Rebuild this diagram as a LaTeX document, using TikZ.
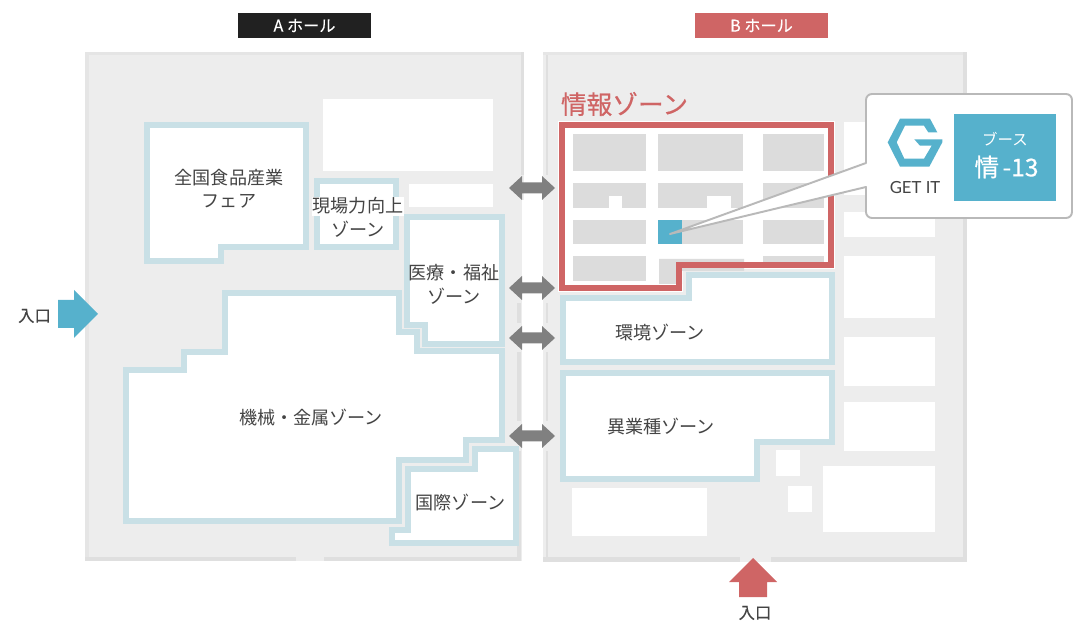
\documentclass[tikz,border=0pt]{standalone}
\usepackage{fontspec}
\setmainfont{Noto Sans CJK JP}
\newfontfamily\logofont{Lato}
\newfontfamily\heavyfont[FakeBold=0.5]{Noto Sans CJK JP}
\newfontfamily\semifont[FakeBold=0.25]{Noto Sans CJK JP}

\definecolor{hallgray}{HTML}{EDEDED}
\definecolor{edgegray}{HTML}{DFDFDF}
\definecolor{boothgray}{HTML}{DCDCDC}
\definecolor{zoneblue}{HTML}{C9E0E6}
\definecolor{brandblue}{HTML}{56B1CC}
\definecolor{brandred}{HTML}{CF6565}
\definecolor{inkgray}{HTML}{444444}
\definecolor{linkgray}{HTML}{808080}

\tikzset{
  zone/.style={draw=zoneblue,fill=white,line width=3.4pt,line join=miter},
  room/.style={fill=white},
  booth/.style={fill=boothgray},
  link/.style={fill=linkgray},
  zonelabel/.style={text=inkgray,align=center,inner sep=0pt,
    font=\fontsize{10.3}{13.3}\selectfont},
  entrylabel/.style={text=inkgray,inner sep=0pt,font=\semifont\fontsize{9.3}{11}\selectfont},
  hallbar/.style={text=white,inner sep=0pt,font=\semifont\fontsize{9.2}{11}\selectfont},
}

\begin{document}
\begin{tikzpicture}[x=0.02cm,y=-0.02cm]
  \useasboundingbox (0,0) rectangle (1089,631);

  % hall A
  \fill[hallgray] (85,52) rectangle (524,561);
  \fill[white] (522,200) rectangle (525,562);
  \fill[edgegray!55!hallgray] (85,52) rectangle (89,561);
  \fill[edgegray!55!hallgray] (85,52) rectangle (524,55);
  \fill[edgegray] (521,52) rectangle (524,175);
  \fill[edgegray] (517,303) rectangle (521,323);
  \fill[edgegray] (517,352) rectangle (521,421);
  \fill[edgegray] (517,451) rectangle (521,561);
  \fill[edgegray] (85,557) rectangle (521,561);
  \fill[hallgray] (296,557) rectangle (324,561);

  % hall B
  \fill[hallgray] (543,52) rectangle (967,562);
  \fill[edgegray!50!hallgray] (543,52) rectangle (967,55);
  \fill[edgegray] (546,55) rectangle (548,175);
  \fill[edgegray] (546,303) rectangle (548,323);
  \fill[edgegray] (546,352) rectangle (548,421);
  \fill[edgegray] (546,451) rectangle (548,557);
  \fill[edgegray] (963,52) rectangle (967,562);
  \fill[edgegray] (543,557) rectangle (967,562);
  \fill[hallgray] (740,557) rectangle (771,562);

  % plain rooms
  \fill[room] (323,99) rectangle (493,171);
  \fill[room] (409,184) rectangle (493,207);
  \fill[room] (844,122) rectangle (935,195);
  \fill[room] (844,212) rectangle (935,237);
  \fill[room] (844,256) rectangle (935,318);
  \fill[room] (844,337) rectangle (935,386);
  \fill[room] (844,402) rectangle (935,451);
  \fill[room] (823,466) rectangle (935,532);
  \fill[room] (776,450) rectangle (800,476);
  \fill[room] (788,486) rectangle (812,512);
  \fill[room] (572,488) rectangle (707,536);

  % zones of hall A
  \draw[zone] (147,125) -- (306,125) -- (306,247) -- (221,247) -- (221,261) -- (147,261) -- cycle;
  \draw[zone] (317,181) rectangle (396,247);
  \draw[zone] (126,370) -- (184,370) -- (184,352) -- (225,352) -- (225,293) -- (399,293) -- (399,332)
    -- (417,332) -- (417,351) -- (502,351) -- (502,440) -- (466,440) -- (466,460) -- (399,460)
    -- (399,521) -- (126,521) -- cycle;
  \draw[zone] (407,217) -- (502,217) -- (502,344) -- (425,344) -- (425,325) -- (407,325) -- cycle;
  \draw[zone] (475,449) -- (516,449) -- (516,543) -- (392,543) -- (392,530) -- (408,530)
    -- (408,469) -- (475,469) -- cycle;

  % zones of hall B
  \draw[zone] (563,298) -- (689,298) -- (689,275) -- (832,275) -- (832,362) -- (563,362) -- cycle;
  \draw[zone] (563,373) -- (832,373) -- (832,442) -- (757,442) -- (757,479) -- (563,479) -- cycle;

  % info zone ground
  \draw[white,fill=white,line width=4.6pt] (562,125) -- (831,125) -- (831,265) -- (679,265) -- (679,288) -- (562,288) -- cycle;

  % booths
  \foreach \xa/\xb in {573/646,658/743,763/824} {
    \fill[booth] (\xa,134) rectangle (\xb,171);
    \fill[booth] (\xa,183) rectangle (\xb,208);
    \fill[booth] (\xa,220) rectangle (\xb,244);
  }
  \fill[room] (609,196) rectangle (622,208);
  \fill[room] (707,196) rectangle (731,208);
  \fill[booth] (573,256) rectangle (646,281);
  \fill[booth] (659,259) -- (744,259) -- (744,271) -- (682,271) -- (682,284) -- (659,284) -- cycle;
  \fill[booth] (763,256) rectangle (824,266);
  \fill[brandblue] (658,220) rectangle (682,244);

  % info zone outline
  \draw[brandred,line width=3.4pt,line join=miter] (562,125) -- (831,125) -- (831,265) -- (679,265) -- (679,288) -- (562,288) -- cycle;

  % links between the halls
  \foreach \y in {188,288,338,436} {
    \fill[link] (509,\y) -- (522,\y-12) -- (522,\y-5.5) -- (542,\y-5.5) -- (542,\y-12) -- (555,\y)
      -- (542,\y+12) -- (542,\y+5.5) -- (522,\y+5.5) -- (522,\y+12) -- cycle;
  }

  % entrances
  \fill[brandblue] (58,300) -- (74,300) -- (74,290) -- (98,314) -- (74,338) -- (74,328) -- (58,328) -- cycle;
  \fill[brandred] (753,558) -- (777,582) -- (767,582) -- (767,597) -- (739,597) -- (739,582) -- (729,582) -- cycle;
  \node[entrylabel] (entryA) at (34.5,316) {入口};
  \node[entrylabel] (entryB) at (755,613) {入口};

  % hall titles
  \node[hallbar,fill=black!87,minimum width=133*0.569pt,minimum height=25*0.569pt] (hallA) at (304.5,25.5) {A ホール};
  \node[hallbar,fill=brandred,minimum width=133*0.569pt,minimum height=25*0.569pt] (hallB) at (761.5,25.5) {B ホール};

  % zone names
  \fill[white] (312,197) rectangle (404,216);
  \node[zonelabel] (foodfair) at (229,188.5) {全国食品産業\\フェア};
  \node[zonelabel] (genba) at (358,217.5) {現場力向上\\ゾーン};
  \node[zonelabel] (medical) at (454,284.5) {医療・福祉\\ゾーン};
  \node[zonelabel] (machine) at (311,418) {機械・金属ゾーン};
  \node[zonelabel] (global) at (460.5,502) {国際ゾーン};
  \node[zonelabel] (env) at (660,332) {環境ゾーン};
  \node[zonelabel] (cross) at (661,427) {異業種ゾーン};
  \node[text=brandred,inner sep=0pt,font=\heavyfont\fontsize{14.6}{16}\selectfont] (info) at (624.5,104) {情報ゾーン};

  % balloon
  \draw[draw=gray!55!white,fill=white,line width=1.1pt,line join=round] (866,163)
    [rounded corners=3.4pt] -- (866,94) -- (1072,94) -- (1072,218) -- (866,218)
    [sharp corners] -- (866,187) -- (670,234) -- cycle;
  \fill[brandblue] (954,114) rectangle (1056,201);
  \fill[brandblue] (887.7,142.3) -- (900,118.7) -- (930,118.7) -- (937.3,132.3) -- (928.3,132.3)
    -- (924,125.7) -- (905,125.7) -- (896.7,142.3) -- (904.3,158.7) -- (924,158.7) -- (931.7,145.7)
    -- (920,145.7) -- (914.3,139.3) -- (942.3,139.3) -- (942.3,142.3) -- (929.3,166.7) -- (900,166.7) -- cycle;
  \node[text=inkgray,inner sep=0pt,font=\logofont\fontsize{9.5}{11}\selectfont] (getit) at (915,188) {GET IT};
  \node[text=white,inner sep=0pt,font=\fontsize{8.8}{10}\selectfont] (boothtag) at (1005,139) {ブース};
  \node[text=white,inner sep=0pt,font=\heavyfont\fontsize{14}{16}\selectfont] (boothno) at (1006.5,167) {情\kern2pt -13};

\end{tikzpicture}
\end{document}
